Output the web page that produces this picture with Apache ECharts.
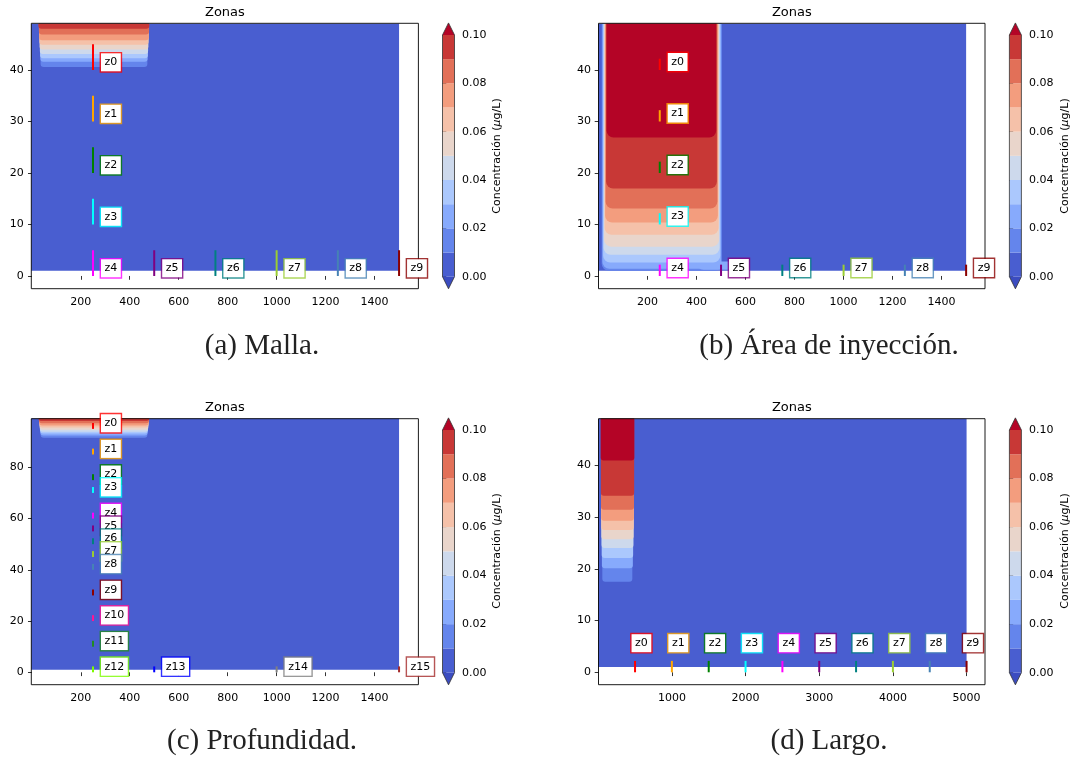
<!DOCTYPE html>
<html>
<head>
<meta charset="utf-8">
<script src="https://cdn.jsdelivr.net/npm/echarts@6/dist/echarts.min.js"></script>
<style>
html, body { margin: 0; padding: 0; background: #fff; }
#main { width: 1073px; height: 757px; }
</style>
</head>
<body>
<div id="main"></div>
<script>
// niveles del contorno (ug/L) y colores de cada banda (coolwarm, 10 niveles + extremos)
var niveles = [0, 0.01, 0.02, 0.03, 0.04, 0.05, 0.06, 0.07, 0.08, 0.09, 0.10];
var coloresBanda = ['#495ed0', '#6485ec', '#87aafc', '#abc8fd', '#cdd9ec', '#e9d5cb',
                    '#f5c1a9', '#f39d7e', '#e27058', '#c83836', '#b40426'];
var colorBajo = '#3b4cc0';

var zonasNombre = ['z0', 'z1', 'z2', 'z3', 'z4', 'z5', 'z6', 'z7', 'z8', 'z9',
                   'z10', 'z11', 'z12', 'z13', 'z14', 'z15'];
var zonasColor = ['#ff0000', '#ffa500', '#008000', '#00ffff', '#ff00ff', '#800080', '#008080',
                  '#9acd32', '#4682b4', '#8b0000', '#ff1493', '#228b22', '#7cfc00', '#0000ff',
                  '#808080', '#a52a2a'];

var ticksX1500 = [200, 400, 600, 800, 1000, 1200, 1400];
var ticksX5000 = [1000, 2000, 3000, 4000, 5000];
var ticksY50 = [0, 10, 20, 30, 40];
var ticksY100 = [0, 20, 40, 60, 80];

// regiones del campo: [x0, x1, y0, y1, banda]  (cada banda tapa a la anterior)
var mallaCampo = [
  [-2, 1500, 1, 49, 0],
  [36, 472, 40.6, 49, 1], [35, 473, 41.6, 49, 2], [34, 474, 42.3, 49, 3],
  [33, 475, 43.1, 49, 4], [32, 476, 44.0, 49, 5], [31, 477, 44.9, 49, 6],
  [30, 478, 45.8, 49, 7], [29, 479, 46.9, 49, 8], [27, 480, 48.0, 49, 9]
];
var inyeccionCampo = [
  [0, 1500, 1, 49, 0],
  [13, 504, 1.0, 49, 1],
  [16, 500, 1.4, 49, 2], [400, 580, 1.2, 2.8, 2],
  [19, 497, 2.6, 49, 3], [21, 494, 4.1, 49, 4], [23, 492, 5.7, 49, 5],
  [25, 490, 8.0, 49, 6], [27, 487, 10.4, 49, 7], [29, 485, 13.1, 49, 8],
  [31, 483, 17.0, 49, 9], [33, 480, 26.9, 49, 10]
];
var profundidadCampo = [
  [-2, 1500, 1, 99, 0],
  [36, 472, 91.5, 99, 1], [35, 473, 92.4, 99, 2], [34, 474, 93.2, 99, 3],
  [33, 475, 93.9, 99, 4], [32, 476, 94.7, 99, 5], [31, 477, 95.5, 99, 6],
  [30, 478, 96.3, 99, 7], [29, 479, 97.2, 99, 8], [27, 480, 98.1, 99, 9]
];
var largoCampo = [
  [4, 5000, 1, 49, 0],
  [56, 463, 17.5, 49, 1], [50, 470, 20.1, 49, 2], [48, 474, 22.1, 49, 3],
  [46, 478, 24.0, 49, 4], [44, 480, 25.7, 49, 5], [42, 482, 27.5, 49, 6],
  [40, 484, 29.3, 49, 7], [38, 486, 31.4, 49, 8], [36, 488, 34.1, 49, 9],
  [34, 490, 40.9, 49, 10]
];

// zonas: posicion x, cota inferior y
var mallaZonaX = [250, 250, 250, 250, 250, 500, 750, 1000, 1250, 1500];
var mallaZonaY = [40, 30, 20, 10, 0, 0, 0, 0, 0, 0];
var inyeccionZonaX = [250, 250, 250, 250, 250, 500, 750, 1000, 1250, 1500];
var inyeccionZonaY = [40, 30, 20, 10, 0, 0, 0, 0, 0, 0];
var profundidadZonaX = [250, 250, 250, 250, 250, 250, 250, 250, 250, 250, 250, 250, 250, 500, 1000, 1500];
var profundidadZonaY = [95, 85, 75, 70, 60, 55, 50, 45, 40, 30, 20, 10, 0, 0, 0, 0];
var largoZonaX = [500, 1000, 1500, 2000, 2500, 3000, 3500, 4000, 4500, 5000];
var largoZonaY = [0, 0, 0, 0, 0, 0, 0, 0, 0, 0];

var paneles = [
  { grid: [31.3, 23.3, 387.1, 265.4], cb: [442.5, 35, 241.7], x: [-2, 1579], y: [-2.47, 49.07],
    xt: ticksX1500, yt: ticksY50, campo: mallaCampo, zx: mallaZonaX, zy: mallaZonaY,
    largo: 5, dx: 8, dy: -7.7, etqY: null, r: 3, lw: 2 },
  { grid: [598.5, 23.3, 386.5, 265.4], cb: [1009.4, 35, 241.7], x: [0, 1577], y: [-2.47, 49.07],
    xt: ticksX1500, yt: ticksY50, campo: inyeccionCampo, zx: inyeccionZonaX, zy: inyeccionZonaY,
    largo: 2.2, dx: 8, dy: -8, etqY: null, r: 7, lw: 2 },
  { grid: [31.3, 418.7, 387.1, 266], cb: [442.5, 430, 242.7], x: [-2, 1579], y: [-4.84, 98.97],
    xt: ticksX1500, yt: ticksY100, campo: profundidadCampo, zx: profundidadZonaX, zy: profundidadZonaY,
    largo: 2.3, dx: 8, dy: -5.6, etqY: null, r: 3, lw: 2 },
  { grid: [598.5, 418.7, 386.5, 266], cb: [1009.4, 430, 242.7], x: [4, 5250], y: [-2.4, 49.0],
    xt: ticksX5000, yt: ticksY50, campo: largoCampo, zx: largoZonaX, zy: largoZonaY,
    largo: 2.2, dx: -3.5, dy: -3.2, etqY: 5, r: 3, lw: 2 }
];

var fuente = 'DejaVu Sans';

function renderCampo(r) {
  return function (params, api) {
    var a = api.coord([api.value(0), api.value(3)]);
    var b = api.coord([api.value(1), api.value(2)]);
    var banda = api.value(4);
    return {
      type: 'rect',
      shape: { x: a[0], y: a[1], width: b[0] - a[0], height: b[1] - a[1], r: banda > 0 ? [0, 0, r, r] : 0 },
      style: { fill: coloresBanda[banda] }
    };
  };
}

function renderZona(p) {
  return function (params, api) {
    var x = api.value(0), y0 = api.value(1), i = api.value(2);
    var pb = api.coord([x, y0]);
    var pt = api.coord([x, y0 + p.largo]);
    var pe = api.coord([x, p.etqY == null ? y0 : p.etqY]);
    var c = echarts.color.modifyAlpha(zonasColor[i], 0.8);
    return {
      type: 'group',
      children: [
        { type: 'line', shape: { x1: pb[0], y1: pb[1], x2: pt[0], y2: pt[1] },
          style: { stroke: zonasColor[i], lineWidth: p.lw } },
        { type: 'text', z2: 5,
          style: { text: zonasNombre[i], x: pe[0] + p.dx, y: pe[1] + p.dy, align: 'left', verticalAlign: 'middle',
                   fill: '#000', fontSize: 11, fontFamily: fuente, lineHeight: 12,
                   backgroundColor: '#fff', borderColor: c, borderWidth: 1.4, padding: [3, 3.5, 3, 3.5] } }
      ]
    };
  };
}

function renderBarra(params, api) {
  var lo = api.value(0), hi = api.value(1), b = api.value(2), f = api.value(3);
  if (f === 0) {
    var a = api.coord([0, lo]), c = api.coord([1, hi]);
    return { type: 'rect', shape: { x: a[0], y: c[1], width: c[0] - a[0], height: a[1] - c[1] },
             style: { fill: coloresBanda[b] } };
  }
  if (f === 1 || f === 2) {
    var base = f === 1 ? hi : lo;
    var punta = api.coord([0.5, f === 1 ? lo : hi]);
    return { type: 'polygon', shape: { points: [api.coord([0, base]), api.coord([1, base]), punta] },
             style: { fill: f === 1 ? colorBajo : coloresBanda[10] } };
  }
  return { type: 'polygon',
           shape: { points: [api.coord([0, 0]), api.coord([0.5, lo]), api.coord([1, 0]),
                             api.coord([1, 0.1]), api.coord([0.5, hi]), api.coord([0, 0.1])] },
           style: { fill: 'none', stroke: '#333', lineWidth: 0.8 } };
}

// datos de la barra de color
var barraDatos = [];
for (var k = 0; k < niveles.length - 1; k++) barraDatos.push([niveles[k], niveles[k + 1], k, 0]);
barraDatos.push([-0.005, 0, 0, 1]);
barraDatos.push([0.1, 0.105, 10, 2]);
barraDatos.push([-0.005, 0.105, 0, 3]);

function textoPlano(v) { return String(v); }

var grids = [], xAxes = [], yAxes = [], series = [];
paneles.forEach(function (p, n) {
  var gi = 2 * n, ci = 2 * n + 1;
  grids.push({ left: p.grid[0], top: p.grid[1], width: p.grid[2], height: p.grid[3], show: true,
               borderColor: '#000', borderWidth: 0.9, backgroundColor: 'rgba(0,0,0,0)', z: 5 });
  grids.push({ left: p.cb[0], top: p.cb[1], width: 12, height: p.cb[2] });
  xAxes.push({ type: 'value', gridIndex: gi, min: p.x[0], max: p.x[1], splitLine: { show: false },
    axisLine: { show: false },
    axisTick: { length: 3.8, lineStyle: { color: '#000', width: 0.8 }, customValues: p.xt },
    axisLabel: { color: '#000', fontSize: 11, fontFamily: fuente, margin: 7.6, customValues: p.xt,
                 formatter: textoPlano } });
  yAxes.push({ type: 'value', gridIndex: gi, min: p.y[0], max: p.y[1], splitLine: { show: false },
    axisLine: { show: false },
    axisTick: { length: 3.8, lineStyle: { color: '#000', width: 0.8 }, customValues: p.yt },
    axisLabel: { color: '#000', fontSize: 11, fontFamily: fuente, margin: 7.6, customValues: p.yt,
                 formatter: textoPlano } });
  xAxes.push({ type: 'value', gridIndex: ci, min: 0, max: 1, show: false });
  yAxes.push({ type: 'value', gridIndex: ci, min: 0, max: 0.1, interval: 0.02, position: 'right',
    splitLine: { show: false }, axisLine: { show: false },
    axisTick: { length: 3.8, lineStyle: { color: '#000', width: 0.8 } },
    axisLabel: { color: '#000', fontSize: 11, fontFamily: fuente, margin: 7.6,
                 formatter: function (v) { return v.toFixed(2); } } });
  series.push({ type: 'custom', name: 'campo' + n, xAxisIndex: gi, yAxisIndex: gi, silent: true,
                renderItem: renderCampo(p.r), data: p.campo, z: 2 });
  series.push({ type: 'custom', name: 'zonas' + n, xAxisIndex: gi, yAxisIndex: gi, silent: true,
                renderItem: renderZona(p),
                data: p.zx.map(function (x, i) { return [x, p.zy[i], i]; }), z: 10 });
  series.push({ type: 'custom', name: 'barra' + n, xAxisIndex: ci, yAxisIndex: ci, silent: true,
                renderItem: renderBarra, data: barraDatos, z: 2 });
});

var graficos = [];
var titulos = [[224.9, 12.3], [791.8, 12.3], [224.9, 407.3], [791.8, 407.3]];
titulos.forEach(function (t) {
  graficos.push({ type: 'text', x: t[0], y: t[1],
    style: { text: 'Zonas', fontSize: 13, fontFamily: fuente, fill: '#000', align: 'center', verticalAlign: 'middle' } });
});
var etiquetasBarra = [[497.6, 156], [1065.2, 156], [497.6, 551], [1065.2, 551]];
etiquetasBarra.forEach(function (t) {
  graficos.push({ type: 'text', x: t[0], y: t[1], rotation: Math.PI / 2,
    style: { text: 'Concentración ({i|μ}g/L)', fontSize: 11, fontFamily: fuente, fill: '#000',
             align: 'center', verticalAlign: 'middle',
             rich: { i: { fontStyle: 'italic', fontSize: 11, fontFamily: fuente, fill: '#000' } } } });
});
var pies = [['(a) Malla.', 262, 346], ['(b) Área de inyección.', 829, 346],
            ['(c) Profundidad.', 262, 741], ['(d) Largo.', 829, 741]];
pies.forEach(function (t) {
  graficos.push({ type: 'text', x: t[1], y: t[2],
    style: { text: t[0], fontSize: 29, fontFamily: 'Liberation Serif', fill: '#222', align: 'center', verticalAlign: 'middle' } });
});

var chart = echarts.init(document.getElementById('main'), null, { renderer: 'canvas' });
chart.setOption({
  animation: false,
  backgroundColor: '#fff',
  grid: grids,
  xAxis: xAxes,
  yAxis: yAxes,
  series: series,
  graphic: graficos
});
</script>
</body>
</html>
